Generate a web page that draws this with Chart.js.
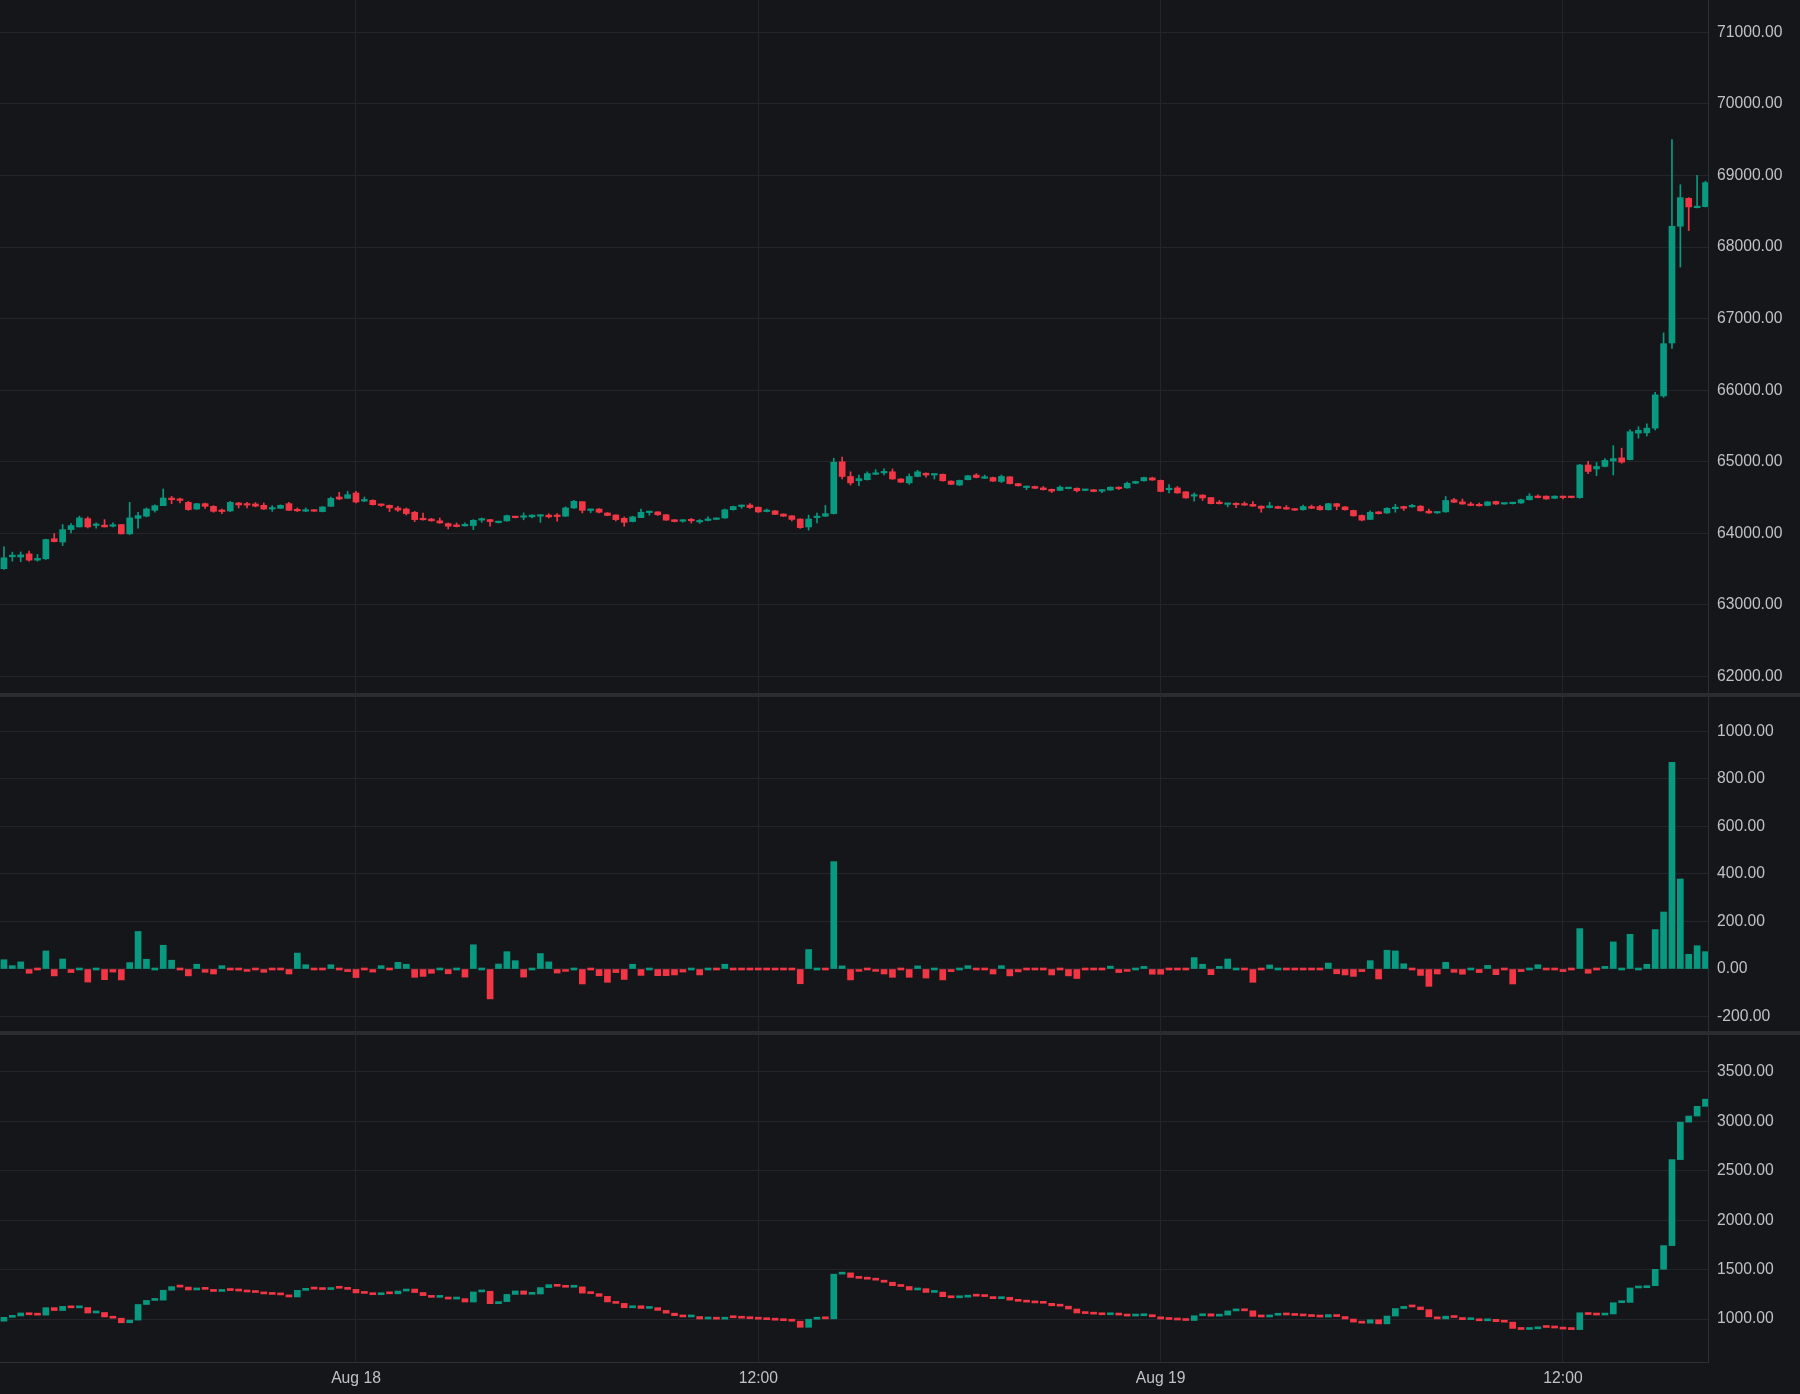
<!DOCTYPE html>
<html>
<head>
<meta charset="utf-8">
<script src="https://cdn.jsdelivr.net/npm/chart.js@4.4.1/dist/chart.umd.min.js"></script>
<style>
  html, body { margin: 0; padding: 0; }
  body { width: 1800px; height: 1394px; background: #2a2c31; position: relative; overflow: hidden; }
  canvas { position: absolute; left: 0; background: #151619; }
</style>
</head>
<body>
<canvas id="priceChart" width="1800" height="693" style="top:0px"></canvas>
<canvas id="deltaChart" width="1800" height="334" style="top:697px"></canvas>
<canvas id="cumChart" width="1800" height="359" style="top:1035px"></canvas>
<script>
// 15 minute candles, Aug 17 13:30 -> Aug 19 16:15 (index 0..203)
const timeTicks = [42, 90, 138, 186];
const timeLabels = ["Aug 18", "12:00", "Aug 19", "12:00"];

const priceTicks = [62000, 63000, 64000, 65000, 66000, 67000, 68000, 69000, 70000, 71000];
const deltaTicks = [-200, 0, 200, 400, 600, 800, 1000];
const cumTicks = [1000, 1500, 2000, 2500, 3000, 3500];

const open = [
  63506,63673,63670,63714,63626,63645,63925,63880,64053,64090,
  64206,64110,64115,64100,64123,63993,64210,64240,64322,64387,
  64494,64475,64433,64340,64415,64378,64320,64313,64424,64410,
  64410,64392,64340,64350,64415,64330,64310,64325,64304,64378,
  64508,64490,64564,64452,64462,64400,64392,64355,64340,64295,
  64210,64200,64175,64137,64118,64105,64109,64185,64192,64150,
  64174,64237,64225,64230,64240,64255,64255,64240,64355,64443,
  64320,64340,64285,64257,64210,64165,64220,64290,64300,64260,
  64190,64170,64185,64160,64180,64195,64215,64330,64375,64395,
  64365,64305,64315,64270,64245,64200,64090,64220,64240,64276,
  65000,64795,64735,64750,64825,64845,64860,64760,64705,64795,
  64840,64815,64825,64730,64675,64750,64815,64770,64780,64725,
  64790,64695,64640,64655,64635,64615,64600,64625,64630,64600,
  64610,64590,64605,64645,64635,64700,64735,64775,64740,64610,
  64635,64580,64520,64535,64500,64430,64405,64420,64410,64405,
  64380,64360,64375,64360,64340,64330,64375,64375,64330,64415,
  64370,64320,64250,64195,64300,64285,64345,64375,64370,64380,
  64310,64285,64300,64470,64440,64410,64400,64390,64445,64410,
  64415,64425,64470,64520,64520,64490,64515,64510,64500,64955,
  64900,64935,65010,65055,65030,65400,65405,65470,65920,66660,
  68290,68680,68550,68565
];
const high = [
  63812,63738,63740,63752,63705,63920,63997,64123,64137,64240,
  64230,64146,64192,64146,64123,64434,64295,64355,64400,64620,
  64517,64494,64447,64420,64424,64387,64340,64447,64433,64433,
  64430,64424,64387,64398,64433,64355,64355,64330,64375,64508,
  64573,64587,64587,64508,64470,64410,64397,64378,64355,64308,
  64285,64210,64215,64146,64146,64146,64192,64215,64195,64170,
  64255,64240,64285,64260,64260,64275,64275,64370,64460,64443,
  64340,64345,64290,64260,64230,64240,64340,64310,64305,64265,
  64195,64190,64210,64195,64230,64215,64340,64380,64395,64415,
  64370,64340,64320,64272,64250,64205,64255,64285,64390,65050,
  65065,64860,64815,64860,64890,64900,64900,64765,64830,64880,
  64845,64830,64830,64735,64745,64810,64835,64815,64785,64815,
  64795,64700,64660,64660,64655,64620,64665,64640,64635,64615,
  64615,64612,64650,64650,64715,64730,64785,64785,64745,64680,
  64655,64585,64565,64540,64500,64460,64420,64425,64440,64445,
  64385,64435,64380,64390,64345,64395,64395,64390,64420,64420,
  64375,64325,64258,64315,64305,64360,64405,64380,64405,64390,
  64340,64300,64515,64490,64480,64435,64425,64445,64450,64425,
  64435,64480,64555,64540,64525,64525,64520,64512,64965,65005,
  64990,65045,65225,65190,65445,65490,65530,65970,66800,69500,
  68870,68690,69000,68920
];
const low = [
  63497,63612,63605,63612,63612,63635,63880,63830,64007,64090,
  64076,64072,64090,64090,63990,63983,64072,64230,64295,64387,
  64415,64424,64322,64332,64350,64295,64275,64304,64355,64355,
  64370,64332,64308,64345,64322,64304,64304,64305,64300,64378,
  64470,64490,64424,64443,64395,64378,64304,64308,64257,64165,
  64185,64170,64140,64062,64090,64100,64053,64155,64100,64145,
  64170,64215,64190,64215,64155,64215,64170,64235,64350,64285,
  64290,64285,64245,64175,64100,64160,64220,64255,64250,64180,
  64160,64155,64145,64140,64175,64190,64210,64325,64350,64350,
  64290,64300,64260,64235,64175,64070,64045,64145,64235,64270,
  64760,64675,64665,64745,64820,64815,64755,64710,64685,64790,
  64785,64760,64730,64680,64670,64745,64775,64765,64725,64710,
  64690,64660,64610,64625,64605,64570,64595,64620,64580,64595,
  64580,64570,64600,64610,64630,64695,64730,64740,64580,64565,
  64560,64490,64450,64460,64410,64410,64370,64360,64390,64375,
  64295,64355,64345,64335,64320,64325,64345,64325,64325,64330,
  64325,64240,64175,64190,64270,64280,64295,64320,64365,64310,
  64280,64280,64295,64430,64405,64385,64380,64385,64400,64405,
  64410,64420,64465,64495,64475,64485,64480,64495,64490,64835,
  64805,64930,64815,64980,65025,65330,65360,65445,65900,66585,
  67720,68230,68545,68560
];
const close = [
  63659,63696,63700,63626,63650,63914,63885,64053,64109,64216,
  64090,64120,64090,64115,63993,64216,64248,64341,64387,64494,
  64470,64460,64332,64415,64378,64308,64305,64433,64397,64395,
  64380,64340,64355,64392,64322,64315,64322,64310,64369,64489,
  64480,64540,64438,64470,64401,64390,64355,64325,64276,64192,
  64190,64175,64146,64100,64095,64120,64183,64195,64165,64165,
  64248,64220,64240,64255,64255,64230,64235,64355,64448,64322,
  64330,64295,64250,64192,64155,64230,64295,64300,64260,64185,
  64165,64175,64175,64170,64195,64210,64330,64375,64385,64360,
  64300,64315,64265,64240,64195,64080,64200,64235,64275,64995,
  64795,64705,64765,64835,64840,64860,64760,64715,64795,64860,
  64815,64825,64735,64685,64740,64805,64780,64785,64730,64795,
  64695,64665,64655,64630,64610,64590,64645,64635,64595,64610,
  64585,64610,64645,64625,64700,64725,64780,64745,64585,64625,
  64565,64495,64530,64495,64415,64415,64415,64400,64395,64380,
  64350,64385,64350,64340,64325,64375,64350,64330,64415,64378,
  64330,64245,64185,64295,64275,64350,64360,64350,64380,64315,
  64285,64295,64460,64435,64410,64390,64385,64440,64410,64420,
  64430,64470,64520,64500,64480,64520,64500,64500,64955,64865,
  64935,65020,65045,64995,65420,65440,65470,65935,66650,68290,
  68690,68560,68560,68900
];

const delta = [
  39,14,30,-18,-4,76,-29,42,-15,3,
  -55,5,-45,-13,-46,27,158,41,3,100,
  37,-5,-29,20,-14,-21,14,-5,-5,-10,
  -5,-14,-5,-5,-21,67,18,-5,-5,18,
  -5,-11,-36,-5,-13,14,-5,28,20,-35,
  -31,-18,3,-20,4,-34,102,7,-126,21,
  73,35,-34,3,65,30,-17,-10,4,-63,
  -5,-28,-56,-15,-44,20,-27,8,-28,-28,
  -25,-13,4,-25,3,-5,20,-5,-5,-5,
  -5,-5,-5,-5,-5,-62,82,8,-4,452,
  13,-46,-10,-8,-10,-21,-35,-8,-35,13,
  -38,3,-46,-11,6,14,-4,-4,-21,14,
  -29,-12,-8,-8,-4,-25,-4,-29,-40,-6,
  -6,-6,12,-15,-10,3,11,-22,-22,-5,
  -5,-5,48,20,-24,11,42,8,-7,-56,
  -6,17,8,-5,-5,-5,-6,-5,25,-20,
  -25,-31,-11,35,-42,79,76,22,-6,-27,
  -73,-21,28,-14,-22,4,-15,15,-24,-5,
  -63,-11,7,18,-5,-5,-11,-5,170,-18,
  -5,11,114,3,146,3,20,166,240,870,
  379,62,98,73
];

const cumStart = 978;
const cumClose = [
  1017,1031,1061,1043,1039,1115,1086,1128,1113,1116,
  1061,1066,1021,1008,962,989,1147,1188,1191,1291,
  1328,1323,1294,1314,1300,1279,1293,1288,1283,1273,
  1268,1254,1249,1244,1223,1290,1308,1303,1298,1316,
  1311,1300,1264,1259,1246,1260,1255,1283,1303,1268,
  1237,1219,1222,1202,1206,1172,1274,1281,1155,1176,
  1249,1284,1250,1253,1318,1348,1331,1321,1325,1262,
  1257,1229,1173,1158,1114,1134,1107,1115,1087,1059,
  1034,1021,1025,1000,1003,998,1018,1013,1008,1003,
  998,993,988,983,978,916,998,1006,1002,1454,
  1467,1421,1411,1403,1393,1372,1337,1329,1294,1307,
  1269,1272,1226,1215,1221,1235,1231,1227,1206,1220,
  1191,1179,1171,1163,1159,1134,1130,1101,1061,1055,
  1049,1043,1055,1040,1030,1033,1044,1022,1000,995,
  990,985,1033,1053,1029,1040,1082,1090,1083,1027,
  1021,1038,1046,1041,1036,1031,1025,1020,1045,1025,
  1000,969,958,993,951,1030,1106,1128,1122,1095,
  1022,1001,1029,1015,993,997,982,997,973,968,
  905,894,901,919,914,909,898,893,1063,1045,
  1040,1051,1165,1168,1314,1317,1337,1503,1743,2613,
  2992,3054,3152,3225
];

const UP = "#089981";
const DOWN = "#f23645";
const GRID = "#23252a";
const BORDER = "#2c2f35";
const TEXT = "#bfc1c6";
const FONT = { family: '"Liberation Sans", Arial, sans-serif', size: 15.7 };

// x range so candle 0 sits ~4px from the left edge and 203 ends near the price axis
const X_MIN = -0.472;
const X_MAX = 203.3;

function xScale(showLabels) {
  return {
    type: "linear",
    min: X_MIN,
    max: X_MAX,
    offset: false,
    afterBuildTicks: (s) => { s.ticks = timeTicks.map((v) => ({ value: v })); },
    afterFit: (s) => {
      s.height = showLabels ? 32 : 0;
      s.paddingLeft = 0;
      s.paddingRight = 0;
    },
    grid: { color: GRID, drawTicks: false, offset: false },
    border: { display: showLabels, color: BORDER },
    ticks: {
      display: showLabels,
      autoSkip: false,
      maxRotation: 0,
      padding: 7,
      color: TEXT,
      font: FONT,
      callback: (v, i) => timeLabels[i],
    },
  };
}

function yScale(min, max, ticks) {
  return {
    position: "right",
    min,
    max,
    afterBuildTicks: (s) => { s.ticks = ticks.map((v) => ({ value: v })); },
    afterFit: (s) => {
      s.width = 92;
      s.paddingTop = 0;
      s.paddingBottom = 0;
    },
    grid: { color: GRID, drawTicks: false },
    border: { color: BORDER },
    ticks: { padding: 9, color: TEXT, font: FONT, callback: (v) => v.toFixed(2) },
  };
}

const baseOptions = (yMin, yMax, ticks, showX) => ({
  responsive: false,
  animation: false,
  devicePixelRatio: 1,
  layout: { padding: 0 },
  plugins: { legend: { display: false }, tooltip: { enabled: false } },
  scales: { x: xScale(showX), y: yScale(yMin, yMax, ticks) },
});

const candleColors = close.map((c, i) => (c >= open[i] ? UP : DOWN));

new Chart(document.getElementById("priceChart"), {
  type: "bar",
  data: {
    datasets: [
      {
        data: high.map((h, i) => ({ x: i, y: [low[i], h] })),
        backgroundColor: candleColors,
        barThickness: 1,
        grouped: false,
        order: 2,
      },
      {
        data: open.map((o, i) => ({ x: i, y: [o, close[i]] })),
        backgroundColor: candleColors,
        barThickness: 6,
        minBarLength: 1.5,
        grouped: false,
        order: 1,
      },
    ],
  },
  options: baseOptions(61770, 71451, priceTicks, false),
});

new Chart(document.getElementById("deltaChart"), {
  type: "bar",
  data: {
    datasets: [
      {
        data: delta.map((d, i) => ({ x: i, y: [0, d] })),
        backgroundColor: delta.map((d) => (d >= 0 ? UP : DOWN)),
        barThickness: 6,
        minBarLength: 2,
        grouped: false,
      },
    ],
  },
  options: baseOptions(-261, 1145, deltaTicks, false),
});

new Chart(document.getElementById("cumChart"), {
  type: "bar",
  data: {
    datasets: [
      {
        data: cumClose.map((c, i) => ({ x: i, y: [i ? cumClose[i - 1] : cumStart, c] })),
        backgroundColor: cumClose.map((c, i) => (c >= (i ? cumClose[i - 1] : cumStart) ? UP : DOWN)),
        barThickness: 6,
        minBarLength: 2,
        grouped: false,
      },
    ],
  },
  options: baseOptions(565, 3874, cumTicks, true),
});
</script>
</body>
</html>
